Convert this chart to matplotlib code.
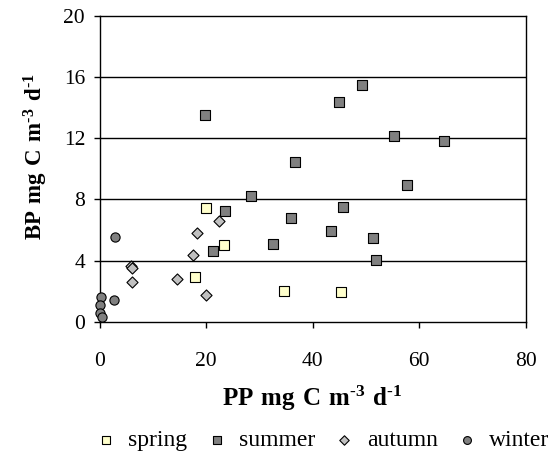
import matplotlib
matplotlib.use("Agg")
import matplotlib.pyplot as plt

plt.rcParams['font.family'] = ['Liberation Serif', 'DejaVu Serif']
plt.rcParams['mathtext.fontset'] = 'custom'
plt.rcParams['mathtext.rm'] = 'Liberation Serif'
plt.rcParams['mathtext.bf'] = 'Liberation Serif:bold'

spring_x = [20.0, 23.4, 17.9, 34.6, 45.4]
spring_y = [7.46, 5.0, 2.94, 2.02, 1.94]

summer_x = [49.3, 44.9, 19.7, 55.2, 64.7, 36.6, 57.7, 28.4, 23.5, 45.6, 35.9, 43.4, 51.3, 32.6, 21.3, 51.9]
summer_y = [15.5, 14.34, 13.5, 12.14, 11.82, 10.45, 8.92, 8.23, 7.23, 7.53, 6.77, 5.94, 5.46, 5.09, 4.64, 4.03]

autumn_x = [22.4, 18.3, 17.6, 5.8, 6.1, 6.1, 14.5, 20.0]
autumn_y = [6.59, 5.81, 4.35, 3.68, 3.53, 2.59, 2.83, 1.76]

winter_x = [2.9, 0.3, 2.6, 0.1, 0.0, 0.4]
winter_y = [5.55, 1.65, 1.41, 1.11, 0.61, 0.31]

x_ticks = [0, 20, 40, 60, 80]
y_ticks = [0, 4, 8, 12, 16, 20]

fig = plt.figure(figsize=(5.52, 4.55), dpi=100)
ax = fig.add_axes([99.7/552, 1 - 322/455, 426/552, 306.3/455])

ax.set_xlim(0, 80)
ax.set_ylim(0, 20)
for yv in y_ticks[1:-1]:
    ax.axhline(yv, color='black', lw=1.0, zorder=1)

ax.scatter(spring_x, spring_y, marker='s', s=44, facecolor='#FFFFCC', edgecolor='black', linewidths=0.8, zorder=3, label='spring', clip_on=False)
ax.scatter(summer_x, summer_y, marker='s', s=44, facecolor='#808080', edgecolor='black', linewidths=0.8, zorder=3, label='summer', clip_on=False)
ax.scatter(autumn_x, autumn_y, marker='D', s=32, facecolor='#C0C0C0', edgecolor='black', linewidths=0.8, zorder=3, label='autumn', clip_on=False)
ax.scatter(winter_x, winter_y, marker='o', s=44, facecolor='#808080', edgecolor='black', linewidths=0.8, zorder=3, label='winter', clip_on=False)

ax.set_xticks(x_ticks)
ax.set_yticks(y_ticks)
ax.tick_params(direction='out', length=4.5, width=1, labelsize=15.5, color='black')
ax.tick_params(axis='y', pad=6)
ax.tick_params(axis='x', pad=17)
for sp in ax.spines.values():
    sp.set_linewidth(1.0)

fig.text(312/552, 1 - 406/455, '$\\mathbf{PP\\ mg\\ C\\ m^{\u20103}\\ d^{\u20101}}$', fontsize=18, ha='center', va='baseline')
fig.text(36/552, 1 - 157/455, '$\\mathbf{BP\\ mg\\ C\\ m^{\u20103}\\ d^{\u20101}}$', fontsize=16.5, ha='center', va='center', rotation=90)

handles, labels = ax.get_legend_handles_labels()
leg = fig.legend(handles, labels, loc='center', bbox_to_anchor=(323/552, 1 - 440/455), ncol=4,
                 frameon=False, fontsize=17, markerscale=0.85, handletextpad=0.55, columnspacing=0.83,
                 handlelength=0.8)

fig.savefig('out.png', dpi=100)
